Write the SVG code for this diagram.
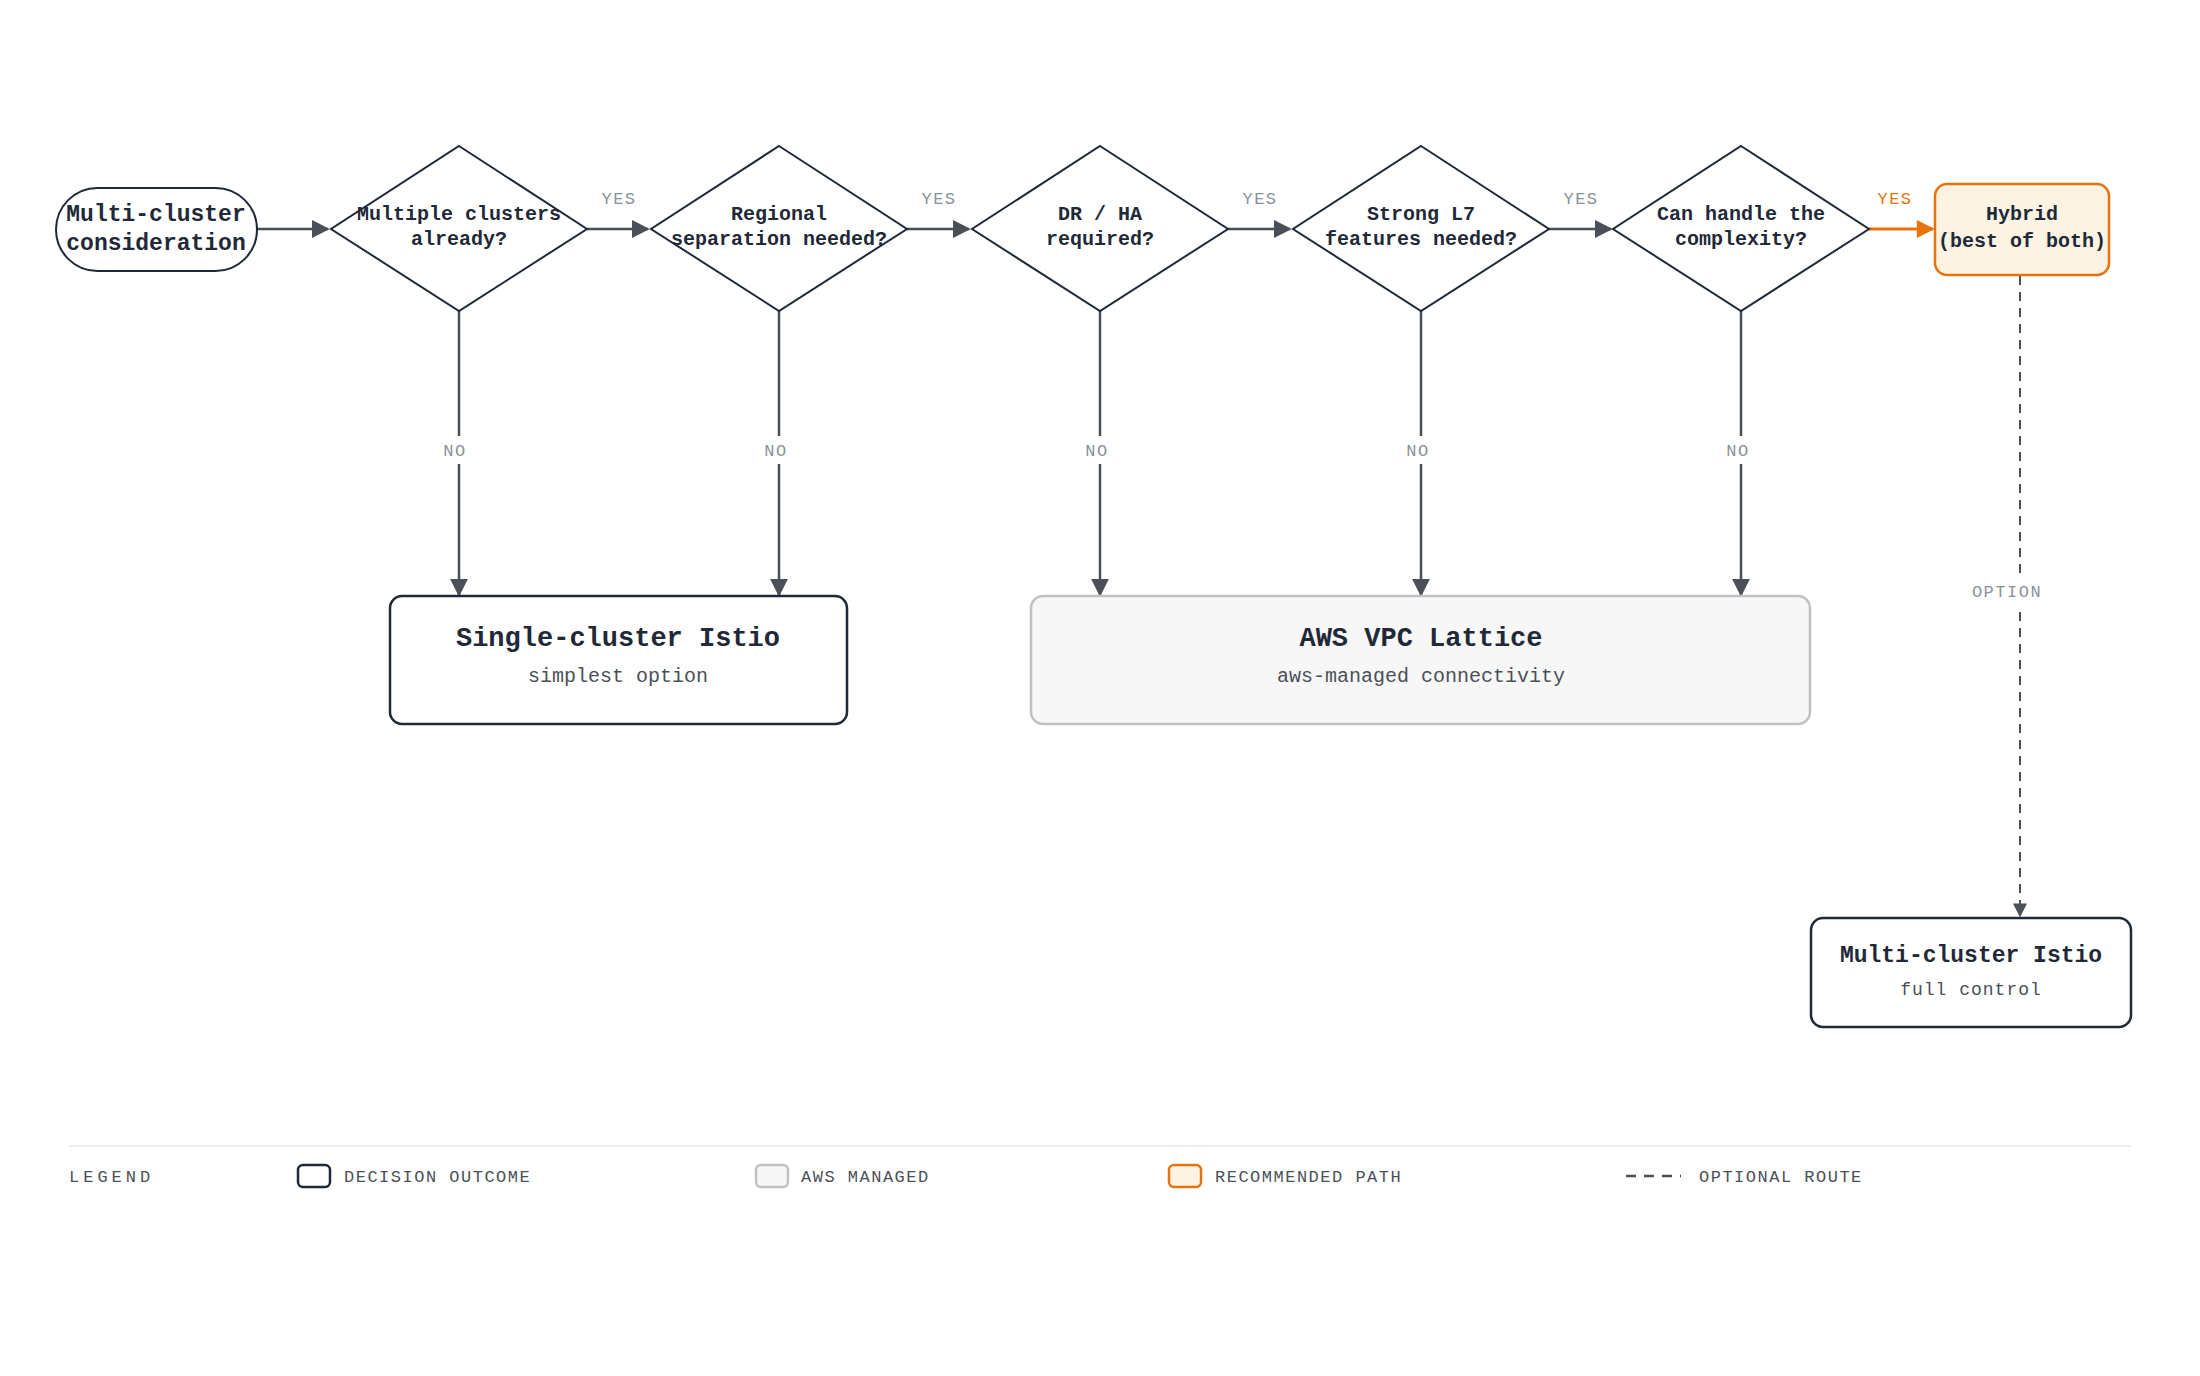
<svg xmlns="http://www.w3.org/2000/svg" width="2200" height="1376" viewBox="0 0 2200 1376">
<defs>
<marker id="ahg" viewBox="0 0 10 10" refX="9" refY="5" markerWidth="18" markerHeight="18" markerUnits="userSpaceOnUse" orient="auto"><path d="M0,0 L10,5 L0,10 z" fill="#4b5058"/></marker>
<marker id="aho" viewBox="0 0 10 10" refX="9" refY="5" markerWidth="22" markerHeight="18" markerUnits="userSpaceOnUse" orient="auto"><path d="M0,0 L10,5 L0,10 z" fill="#e8720c"/></marker>
<marker id="ahs" viewBox="0 0 10 10" refX="9" refY="5" markerWidth="14" markerHeight="14" markerUnits="userSpaceOnUse" orient="auto"><path d="M0,0 L10,5 L0,10 z" fill="#4b5058"/></marker>
</defs>
<style>
text{font-family:"Liberation Mono","DejaVu Sans Mono",monospace;fill:#1f2937}
.d{fill:#fff;stroke:#1f2937;stroke-width:2}
.dt{font-size:20px;font-weight:bold;text-anchor:middle}
.lbl{font-size:17px;letter-spacing:1.5px;fill:#8a919c;text-anchor:middle}
.c{stroke:#4b5058;stroke-width:2.5;fill:none}
.ttl{font-size:27px;font-weight:bold;text-anchor:middle}
.sub{font-size:20px;fill:#4b5058;text-anchor:middle}
.lg{font-size:17px;letter-spacing:1.5px;fill:#4b5058}
</style>
<rect width="2200" height="1376" fill="#fff"/>
<g id="connectors">
<line class="c" x1="257" y1="229" x2="328" y2="229" marker-end="url(#ahg)"/>
<line class="c" x1="587" y1="229" x2="648" y2="229" marker-end="url(#ahg)"/>
<line class="c" x1="907" y1="229" x2="969" y2="229" marker-end="url(#ahg)"/>
<line class="c" x1="1228" y1="229" x2="1290" y2="229" marker-end="url(#ahg)"/>
<line class="c" x1="1549" y1="229" x2="1611" y2="229" marker-end="url(#ahg)"/>
<line x1="1869" y1="229" x2="1933" y2="229" stroke="#e8720c" stroke-width="3" marker-end="url(#aho)"/>
<line class="c" x1="459" y1="311" x2="459" y2="595" marker-end="url(#ahg)"/>
<line class="c" x1="779" y1="311" x2="779" y2="595" marker-end="url(#ahg)"/>
<line class="c" x1="1100" y1="311" x2="1100" y2="595" marker-end="url(#ahg)"/>
<line class="c" x1="1421" y1="311" x2="1421" y2="595" marker-end="url(#ahg)"/>
<line class="c" x1="1741" y1="311" x2="1741" y2="595" marker-end="url(#ahg)"/>
<line x1="2020" y1="276" x2="2020" y2="916" stroke="#4b5058" stroke-width="2" stroke-dasharray="9 7" marker-end="url(#ahs)"/>
<g>
<rect x="436" y="436" width="46" height="28" fill="#fff"/><text class="lbl" x="455" y="456">NO</text>
<rect x="756" y="436" width="46" height="28" fill="#fff"/><text class="lbl" x="776" y="456">NO</text>
<rect x="1077" y="436" width="46" height="28" fill="#fff"/><text class="lbl" x="1097" y="456">NO</text>
<rect x="1398" y="436" width="46" height="28" fill="#fff"/><text class="lbl" x="1418" y="456">NO</text>
<rect x="1718" y="436" width="46" height="28" fill="#fff"/><text class="lbl" x="1738" y="456">NO</text>
<rect x="1965" y="578" width="84" height="28" fill="#fff"/><text class="lbl" x="2007" y="597">OPTION</text>
<text class="lbl" x="619" y="204">YES</text>
<text class="lbl" x="939" y="204">YES</text>
<text class="lbl" x="1260" y="204">YES</text>
<text class="lbl" x="1581" y="204">YES</text>
<text class="lbl" x="1895" y="204" style="fill:#e8720c">YES</text>
</g>
</g>
<g id="start">
<rect x="56" y="188" width="201" height="83" rx="41.5" class="d"/>
<text class="dt" x="156" y="221" style="font-size:23px">Multi-cluster</text>
<text class="dt" x="156" y="250" style="font-size:23px">consideration</text>
</g>
<g id="q1"><polygon class="d" points="459,146 587,229 459,311 331,229"/>
<text class="dt" x="459" y="220">Multiple clusters</text><text class="dt" x="459" y="245">already?</text></g>
<g id="q2"><polygon class="d" points="779,146 907,229 779,311 651,229"/>
<text class="dt" x="779" y="220">Regional</text><text class="dt" x="779" y="245">separation needed?</text></g>
<g id="q3"><polygon class="d" points="1100,146 1228,229 1100,311 972,229"/>
<text class="dt" x="1100" y="220">DR / HA</text><text class="dt" x="1100" y="245">required?</text></g>
<g id="q4"><polygon class="d" points="1421,146 1549,229 1421,311 1293,229"/>
<text class="dt" x="1421" y="220">Strong L7</text><text class="dt" x="1421" y="245">features needed?</text></g>
<g id="q5"><polygon class="d" points="1741,146 1869,229 1741,311 1613,229"/>
<text class="dt" x="1741" y="220">Can handle the</text><text class="dt" x="1741" y="245">complexity?</text></g>
<g id="hybrid"><rect x="1935" y="184" width="174" height="91" rx="12" fill="#fdf3e3" stroke="#e8720c" stroke-width="2.5"/>
<text class="dt" x="2022" y="220">Hybrid</text><text class="dt" x="2022" y="247">(best of both)</text></g>
<g id="single"><rect x="390" y="596" width="457" height="128" rx="12" fill="#fff" stroke="#1f2937" stroke-width="2.5"/>
<text class="ttl" x="618" y="646">Single-cluster Istio</text><text class="sub" x="618" y="682">simplest option</text></g>
<g id="lattice"><rect x="1031" y="596" width="779" height="128" rx="12" fill="#f7f7f7" stroke="#bfc1c5" stroke-width="2.5"/>
<text class="ttl" x="1421" y="646">AWS VPC Lattice</text><text class="sub" x="1421" y="682">aws-managed connectivity</text></g>
<g id="multi"><rect x="1811" y="918" width="320" height="109" rx="12" fill="#fff" stroke="#1f2937" stroke-width="2.5"/>
<text class="ttl" x="1971" y="962" style="font-size:23px">Multi-cluster Istio</text><text class="sub" x="1971" y="995" style="font-size:18px;letter-spacing:1px">full control</text></g>
<g id="legend">
<line x1="69" y1="1146" x2="2131" y2="1146" stroke="#ececec" stroke-width="2"/>
<text class="lg" x="69" y="1182" style="letter-spacing:4px">LEGEND</text>
<rect x="298" y="1165" width="32" height="22" rx="5" fill="#fff" stroke="#1f2937" stroke-width="2.5"/>
<text class="lg" x="344" y="1182">DECISION OUTCOME</text>
<rect x="756" y="1165" width="32" height="22" rx="5" fill="#f7f7f7" stroke="#bfc1c5" stroke-width="2.5"/>
<text class="lg" x="801" y="1182">AWS MANAGED</text>
<rect x="1169" y="1165" width="32" height="22" rx="5" fill="#fdf3e3" stroke="#e8720c" stroke-width="2.5"/>
<text class="lg" x="1215" y="1182">RECOMMENDED PATH</text>
<line x1="1626" y1="1176" x2="1681" y2="1176" stroke="#4b5058" stroke-width="2.5" stroke-dasharray="10 8"/>
<text class="lg" x="1699" y="1182">OPTIONAL ROUTE</text>
</g>
</svg>
